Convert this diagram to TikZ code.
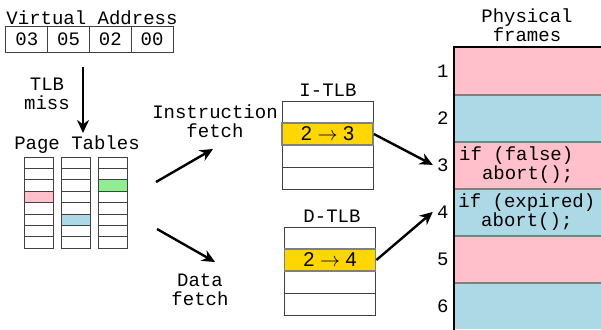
\documentclass[tikz,border=0pt]{standalone}
\usepackage{fontspec}
\setmainfont{Liberation Mono}
\newfontfamily\tlbfont{Liberation Sans}
\usetikzlibrary{arrows.meta, positioning}
\definecolor{framepink}{RGB}{255,192,203}
\definecolor{frameblue}{RGB}{173,216,230}
\definecolor{ptgreen}{RGB}{144,238,144}
\definecolor{tlbgold}{RGB}{255,215,0}

\begin{document}
\begin{tikzpicture}[x=0.5pt, y=-0.5pt,
  font=\fontsize{9.5}{9.5}\selectfont,
  box/.style={draw=black!75, line width=0.5pt, inner sep=0pt},
  ptcell/.style={box, minimum width=14.5pt, minimum height=5.7pt},
  tlbrow/.style={box, minimum width=45.5pt, minimum height=11pt},
  hitrow/.style={tlbrow, fill=tlbgold, draw=gray, line width=0.9pt, font=\tlbfont\fontsize{10}{10}\selectfont},
  frame/.style={minimum width=74pt, minimum height=23.5pt, inner sep=0pt, anchor=north west},
  fetch/.style={-{Stealth[length=6.5pt,width=6pt]}, line width=1.2pt}]
\useasboundingbox (0,0) rectangle (601,329);

% 虚拟地址
\node (valabel) at (92,18) {Virtual Address};
\foreach \v [count=\i] in {03,05,02,00}
  \node[box, minimum width=20.9pt, minimum height=13pt] (va\i) at ({6+41.75*(\i-0.5)},39) {\v};

% TLB miss
\coordinate (misstop) at (83,67);
\coordinate (missend) at (83,133);
\draw[fetch] (misstop) -- (missend);
\node[align=center] (misslbl) at (47,94) {TLB\\miss};

% 页表
\node (ptlabel) at (77,145) {Page Tables};
\foreach \c in {0,1,2}
  \foreach \r in {0,...,7}
    \node[ptcell] (pt\c-\r) at ({38.5+37*\c},{162.7+11.4*\r}) {};
\node[ptcell, fill=framepink] (pthit0) at (pt0-3) {};
\node[ptcell, fill=frameblue] (pthit1) at (pt1-5) {};
\node[ptcell, fill=ptgreen] (pthit2) at (pt2-2) {};

% 取指 / 取数
\coordinate (ifstart) at (156,182);
\coordinate (ifend) at (213,149);
\draw[fetch] (ifstart) -- (ifend);
\node[align=center] (iflbl) at (215,121) {Instruction\\fetch};
\coordinate (dfstart) at (157,229);
\coordinate (dfend) at (215,262);
\draw[fetch] (dfstart) -- (dfend);
\node[align=center] (dflbl) at (200,290) {Data\\fetch};

% I-TLB
\node (itlblbl) at (328,90) {I-TLB};
\foreach \r in {0,...,3}
  \node[tlbrow] (itlb\r) at (327.5,{112+22*\r}) {};
\node[hitrow] (ihit) at (itlb1) {2 $\rightarrow$ 3};

% D-TLB
\node (dtlblbl) at (332,216) {D-TLB};
\foreach \r in {0,...,3}
  \node[tlbrow] (dtlb\r) at (330,{238+22*\r}) {};
\node[hitrow] (dhit) at (dtlb1) {2 $\rightarrow$ 4};

% 物理页框
\node[align=center] (pflbl) at (527,25) {Physical\\frames};
\foreach \f/\col in {1/framepink,2/frameblue,3/framepink,4/frameblue,5/framepink,6/frameblue} {
  \node[frame, fill=\col] (f\f) at (454,{47+47*(\f-1)}) {};
  \node[anchor=east, inner sep=2pt] (num\f) at ([xshift=-0.5pt]f\f.west) {\f};
}
\foreach \f in {1,...,5}
  \draw[gray, line width=1pt] (f\f.south west) -- (f\f.south east);
\draw[line width=0.6pt] (f1.north east) -- (f1.north west) -- (f6.south west);
\node[anchor=west, align=left, inner sep=0pt] (code3) at ([xshift=2.4pt]f3.west) {if (false)\\\hspace*{1.2em}abort();};
\node[anchor=west, align=left, inner sep=0pt] (code4) at ([xshift=2pt]f4.west) {if (expired)\\\hspace*{1.2em}abort();};

\draw[fetch] (ihit.east) -- (num3.west);
\draw[fetch] (dhit.east) -- (num4.west);
\end{tikzpicture}
\end{document}
